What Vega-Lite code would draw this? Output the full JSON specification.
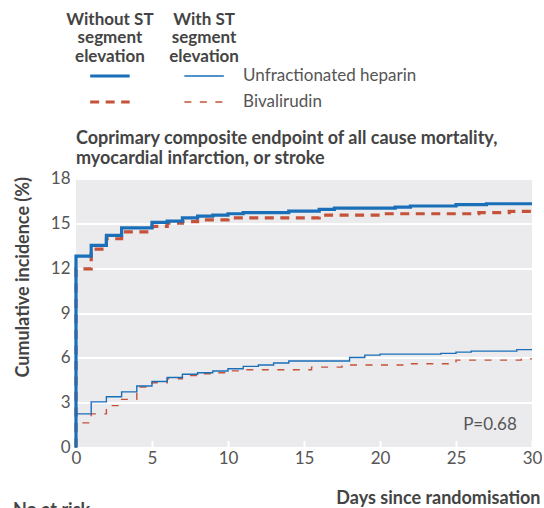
{
  "$schema": "https://vega.github.io/schema/vega-lite/v6.json",
  "padding": {"left": 13, "top": 10, "right": 0, "bottom": 0},
  "bounds": "flush",
  "spacing": 63.5,
  "datasets": {
    "legend": [
      {"st": "Without ST segment elevation", "drug": "Unfractionated heparin", "series": "Without ST – Unfractionated heparin", "header": "Without ST\nsegment\nelevation"},
      {"st": "With ST segment elevation", "drug": "Unfractionated heparin", "series": "With ST – Unfractionated heparin", "header": "With ST\nsegment\nelevation"},
      {"st": "Without ST segment elevation", "drug": "Bivalirudin", "series": "Without ST – Bivalirudin", "header": "Without ST\nsegment\nelevation"},
      {"st": "With ST segment elevation", "drug": "Bivalirudin", "series": "With ST – Bivalirudin", "header": "With ST\nsegment\nelevation"}
    ],
    "km": [
      {"series": "Without ST – Bivalirudin", "day": 0, "value": 0},
      {"series": "Without ST – Bivalirudin", "day": 0, "value": 11.95},
      {"series": "Without ST – Bivalirudin", "day": 1, "value": 13.28},
      {"series": "Without ST – Bivalirudin", "day": 2, "value": 13.97},
      {"series": "Without ST – Bivalirudin", "day": 3, "value": 14.43},
      {"series": "Without ST – Bivalirudin", "day": 5, "value": 14.8},
      {"series": "Without ST – Bivalirudin", "day": 6, "value": 15.02},
      {"series": "Without ST – Bivalirudin", "day": 7, "value": 15.12},
      {"series": "Without ST – Bivalirudin", "day": 8, "value": 15.23},
      {"series": "Without ST – Bivalirudin", "day": 10, "value": 15.37},
      {"series": "Without ST – Bivalirudin", "day": 16, "value": 15.55},
      {"series": "Without ST – Bivalirudin", "day": 20, "value": 15.64},
      {"series": "Without ST – Bivalirudin", "day": 26.5, "value": 15.71},
      {"series": "Without ST – Bivalirudin", "day": 28.5, "value": 15.8},
      {"series": "Without ST – Bivalirudin", "day": 30, "value": 15.8},
      {"series": "With ST – Bivalirudin", "day": 0, "value": 0},
      {"series": "With ST – Bivalirudin", "day": 0, "value": 1.65},
      {"series": "With ST – Bivalirudin", "day": 1, "value": 2.25},
      {"series": "With ST – Bivalirudin", "day": 2, "value": 2.8},
      {"series": "With ST – Bivalirudin", "day": 3, "value": 3.22},
      {"series": "With ST – Bivalirudin", "day": 4, "value": 4.05},
      {"series": "With ST – Bivalirudin", "day": 5, "value": 4.33},
      {"series": "With ST – Bivalirudin", "day": 6, "value": 4.6},
      {"series": "With ST – Bivalirudin", "day": 7, "value": 4.82},
      {"series": "With ST – Bivalirudin", "day": 8, "value": 4.93},
      {"series": "With ST – Bivalirudin", "day": 9, "value": 5.0},
      {"series": "With ST – Bivalirudin", "day": 10, "value": 5.13},
      {"series": "With ST – Bivalirudin", "day": 11, "value": 5.2},
      {"series": "With ST – Bivalirudin", "day": 15.5, "value": 5.38},
      {"series": "With ST – Bivalirudin", "day": 17.5, "value": 5.52},
      {"series": "With ST – Bivalirudin", "day": 22, "value": 5.6},
      {"series": "With ST – Bivalirudin", "day": 25, "value": 5.85},
      {"series": "With ST – Bivalirudin", "day": 29.3, "value": 5.93},
      {"series": "With ST – Bivalirudin", "day": 30, "value": 5.93},
      {"series": "Without ST – Unfractionated heparin", "day": 0, "value": 0},
      {"series": "Without ST – Unfractionated heparin", "day": 0, "value": 12.8},
      {"series": "Without ST – Unfractionated heparin", "day": 1, "value": 13.52},
      {"series": "Without ST – Unfractionated heparin", "day": 2, "value": 14.2},
      {"series": "Without ST – Unfractionated heparin", "day": 3, "value": 14.7},
      {"series": "Without ST – Unfractionated heparin", "day": 5, "value": 15.06},
      {"series": "Without ST – Unfractionated heparin", "day": 6, "value": 15.15},
      {"series": "Without ST – Unfractionated heparin", "day": 7, "value": 15.37},
      {"series": "Without ST – Unfractionated heparin", "day": 8, "value": 15.48},
      {"series": "Without ST – Unfractionated heparin", "day": 9, "value": 15.55},
      {"series": "Without ST – Unfractionated heparin", "day": 10, "value": 15.64},
      {"series": "Without ST – Unfractionated heparin", "day": 11, "value": 15.71},
      {"series": "Without ST – Unfractionated heparin", "day": 14, "value": 15.82},
      {"series": "Without ST – Unfractionated heparin", "day": 16, "value": 15.93},
      {"series": "Without ST – Unfractionated heparin", "day": 17, "value": 16.02},
      {"series": "Without ST – Unfractionated heparin", "day": 21, "value": 16.08},
      {"series": "Without ST – Unfractionated heparin", "day": 22, "value": 16.16},
      {"series": "Without ST – Unfractionated heparin", "day": 25, "value": 16.25},
      {"series": "Without ST – Unfractionated heparin", "day": 27, "value": 16.31},
      {"series": "Without ST – Unfractionated heparin", "day": 30, "value": 16.31},
      {"series": "With ST – Unfractionated heparin", "day": 0, "value": 0},
      {"series": "With ST – Unfractionated heparin", "day": 0, "value": 2.25},
      {"series": "With ST – Unfractionated heparin", "day": 1, "value": 3.05},
      {"series": "With ST – Unfractionated heparin", "day": 2, "value": 3.4},
      {"series": "With ST – Unfractionated heparin", "day": 3, "value": 3.72},
      {"series": "With ST – Unfractionated heparin", "day": 4, "value": 4.12},
      {"series": "With ST – Unfractionated heparin", "day": 5, "value": 4.42},
      {"series": "With ST – Unfractionated heparin", "day": 6, "value": 4.68},
      {"series": "With ST – Unfractionated heparin", "day": 7, "value": 4.9},
      {"series": "With ST – Unfractionated heparin", "day": 8, "value": 5.0},
      {"series": "With ST – Unfractionated heparin", "day": 9, "value": 5.12},
      {"series": "With ST – Unfractionated heparin", "day": 10, "value": 5.27},
      {"series": "With ST – Unfractionated heparin", "day": 11, "value": 5.43},
      {"series": "With ST – Unfractionated heparin", "day": 12, "value": 5.52},
      {"series": "With ST – Unfractionated heparin", "day": 13, "value": 5.65},
      {"series": "With ST – Unfractionated heparin", "day": 14, "value": 5.79},
      {"series": "With ST – Unfractionated heparin", "day": 18, "value": 6.02},
      {"series": "With ST – Unfractionated heparin", "day": 19, "value": 6.18},
      {"series": "With ST – Unfractionated heparin", "day": 20, "value": 6.25},
      {"series": "With ST – Unfractionated heparin", "day": 24, "value": 6.3},
      {"series": "With ST – Unfractionated heparin", "day": 25, "value": 6.38},
      {"series": "With ST – Unfractionated heparin", "day": 26, "value": 6.45},
      {"series": "With ST – Unfractionated heparin", "day": 29, "value": 6.55},
      {"series": "With ST – Unfractionated heparin", "day": 30, "value": 6.55}
    ],
    "notes": [
      {"day": 29, "value": 1.5, "label": "P=0.68"}
    ],
    "footer": [
      {"day": 0, "value": 0, "label": "No at risk"}
    ]
  },
  "vconcat": [
    {
      "width": 162,
      "height": 52,
      "data": {"name": "legend"},
      "layer": [
        {
          "mark": {"type": "point", "shape": "M-1,0L1,0", "filled": false, "opacity": 1, "size": 1560},
          "encoding": {
            "x": {"field": "st", "type": "nominal", "scale": {"type": "point", "domain": ["Without ST segment elevation", "With ST segment elevation"], "padding": 0.36}, "axis": null},
            "y": {"field": "drug", "type": "nominal", "scale": {"type": "point", "domain": ["Unfractionated heparin", "Bivalirudin"], "padding": 0.5}, "axis": null},
            "color": {"field": "series", "type": "nominal", "scale": {"type": "ordinal", "domain": ["Without ST – Unfractionated heparin", "With ST – Unfractionated heparin", "Without ST – Bivalirudin", "With ST – Bivalirudin"], "range": ["#1a6fb8", "#1a6fb8", "#c6523a", "#c6523a"]}, "legend": null},
            "strokeWidth": {"field": "series", "type": "nominal", "scale": {"type": "ordinal", "domain": ["Without ST – Unfractionated heparin", "With ST – Unfractionated heparin", "Without ST – Bivalirudin", "With ST – Bivalirudin"], "range": [3.2, 1.4, 3.2, 1.4]}, "legend": null},
            "strokeDash": {"field": "series", "type": "nominal", "scale": {"type": "ordinal", "domain": ["Without ST – Unfractionated heparin", "With ST – Unfractionated heparin", "Without ST – Bivalirudin", "With ST – Bivalirudin"], "range": [[1, 0], [1, 0], [9, 6.5], [7, 8.5]]}, "legend": null}
          }
        },
        {
          "transform": [{"filter": "datum.st === 'With ST segment elevation'"}],
          "mark": {"type": "text", "align": "left", "baseline": "middle", "dx": 39, "fontSize": 17, "color": "#555555"},
          "encoding": {
            "x": {"field": "st", "type": "nominal"},
            "y": {"field": "drug", "type": "nominal"},
            "text": {"field": "drug"}
          }
        },
        {
          "transform": [{"filter": "datum.drug === 'Unfractionated heparin'"}],
          "mark": {"type": "text", "align": "center", "baseline": "alphabetic", "dy": -51.5, "lineBreak": "\n", "lineHeight": 18.5, "fontSize": 17, "fontWeight": "bold", "color": "#444444"},
          "encoding": {
            "x": {"field": "st", "type": "nominal"},
            "y": {"field": "drug", "type": "nominal"},
            "text": {"field": "header"}
          }
        }
      ]
    },
    {
      "width": 456,
      "height": 269,
      "view": {"fill": "#ebebee", "stroke": null},
      "title": {
        "text": ["Coprimary composite endpoint of all cause mortality,", "myocardial infarction, or stroke"],
        "anchor": "start",
        "frame": "group",
        "fontSize": 18,
        "fontWeight": "bold",
        "color": "#444444",
        "lineHeight": 20,
        "offset": 2
      },
      "layer": [
        {
          "data": {"name": "km"},
          "mark": {"type": "line", "interpolate": "step-after"},
          "encoding": {
            "x": {"field": "day", "type": "quantitative", "scale": {"domain": [0, 30], "nice": false},
              "axis": {"values": [0, 5, 10, 15, 20, 25, 30], "grid": false, "domain": false, "ticks": true, "tickColor": "white", "tickWidth": 2, "tickSize": -7, "labelPadding": 10, "labelFontSize": 17, "labelColor": "#555555", "labelFlush": false,
                "title": "Days since randomisation", "titleFontSize": 18, "titleFontWeight": "bold", "titleColor": "#444444", "titleAnchor": "end", "titleAlign": "right", "titleX": 464, "titleY": 56, "titleBaseline": "alphabetic"}},
            "y": {"field": "value", "type": "quantitative", "scale": {"domain": [0, 18], "nice": false},
              "axis": {"values": [0, 3, 6, 9, 12, 15, 18], "grid": true, "gridColor": "white", "gridWidth": 2, "domain": false, "ticks": false, "labelPadding": 6, "labelFontSize": 17, "labelColor": "#555555",
                "title": "Cumulative incidence (%)", "titleFontSize": 18, "titleFontWeight": "bold", "titleColor": "#444444", "titleAnchor": "end", "titleY": -2, "titlePadding": 18}},
            "color": {"field": "series", "type": "nominal", "scale": {"type": "ordinal", "domain": ["Without ST – Unfractionated heparin", "With ST – Unfractionated heparin", "Without ST – Bivalirudin", "With ST – Bivalirudin"], "range": ["#1a6fb8", "#1a6fb8", "#c6523a", "#c6523a"]}, "legend": null},
            "strokeWidth": {"field": "series", "type": "nominal", "scale": {"type": "ordinal", "domain": ["Without ST – Unfractionated heparin", "With ST – Unfractionated heparin", "Without ST – Bivalirudin", "With ST – Bivalirudin"], "range": [3.2, 1.4, 3.2, 1.4]}, "legend": null},
            "strokeDash": {"field": "series", "type": "nominal", "scale": {"type": "ordinal", "domain": ["Without ST – Unfractionated heparin", "With ST – Unfractionated heparin", "Without ST – Bivalirudin", "With ST – Bivalirudin"], "range": [[1, 0], [1, 0], [9, 6], [8, 7]]}, "legend": null}
          }
        },
        {
          "data": {"name": "notes"},
          "mark": {"type": "text", "align": "right", "baseline": "middle", "fontSize": 17, "color": "#555555"},
          "encoding": {
            "x": {"field": "day", "type": "quantitative"},
            "y": {"field": "value", "type": "quantitative"},
            "text": {"field": "label"}
          }
        },
        {
          "data": {"name": "footer"},
          "mark": {"type": "text", "align": "left", "baseline": "top", "dx": -63, "dy": 54, "fontSize": 18, "fontWeight": "bold", "color": "#444444"},
          "encoding": {
            "x": {"field": "day", "type": "quantitative"},
            "y": {"field": "value", "type": "quantitative"},
            "text": {"field": "label"}
          }
        }
      ]
    }
  ],
  "config": {
    "font": "Lato",
    "view": {"stroke": null},
    "background": "white"
  }
}
